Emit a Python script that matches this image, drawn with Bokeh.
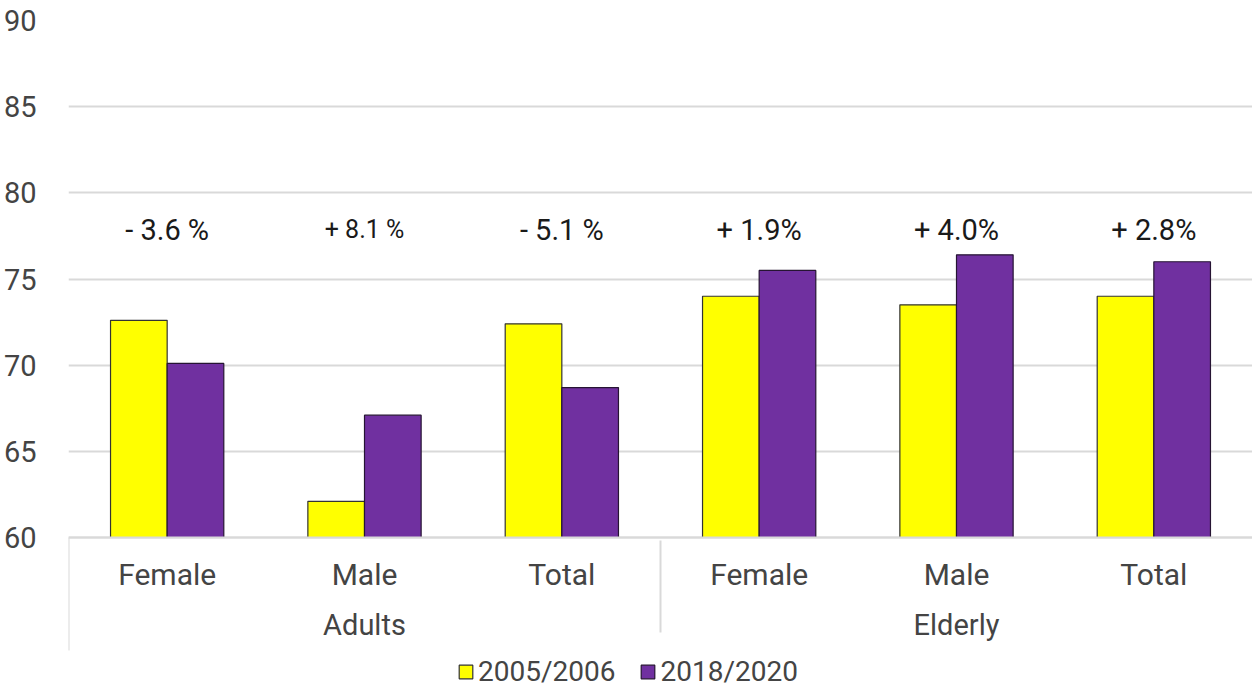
from bokeh.plotting import figure
from bokeh.models import FactorRange, ColumnDataSource, Legend, LegendItem, Range1d, FixedTicker
from bokeh.transform import dodge
from bokeh.core.properties import value
from bokeh.embed import file_html
from bokeh.resources import INLINE

groups = ["Adults", "Elderly"]
subgroups = ["Female", "Male", "Total"]
series_names = ["2005/2006", "2018/2020"]
values_2005 = [72.6, 62.1, 72.4, 74.0, 73.5, 74.0]
values_2018 = [70.1, 67.1, 68.7, 75.5, 76.4, 76.0]
change_labels = ["- 3.6 %", "+ 8.1 %", "- 5.1 %", "+ 1.9%", "+ 4.0%", "+ 2.8%"]
label_level = 77.85
y_ticks = [60, 65, 70, 75, 80, 85, 90]

factors = [(g, s) for g in groups for s in subgroups]

FONT = "Roboto"
BASE = 60
label_font_sizes = ["29px", "25px", "29px", "29px", "29px", "29px"]
src = ColumnDataSource(data=dict(x=factors, a=values_2005, b=values_2018,
                                 lab=change_labels, ly=[label_level] * len(factors),
                                 fs=label_font_sizes))

# frame extends below the value axis so that the category axis and legend sit inside it
px_per_unit = 517 / 30.0
below_px = 151
y_bottom = BASE - below_px / px_per_unit

p = figure(frame_width=1184, frame_height=517 + below_px, output_backend="svg", toolbar_location=None,
           x_range=FactorRange(*factors, group_padding=0, factor_padding=0, range_padding=0),
           y_range=Range1d(y_bottom, 90))
p.min_border_left = 59
p.min_border_right = 0
p.min_border_top = 20
p.min_border_bottom = 0
p.outline_line_color = None
p.background_fill_color = "white"

bw = 0.287
r1 = p.vbar(x=dodge("x", -bw / 2, range=p.x_range), top="a", bottom=BASE, width=bw, source=src,
            fill_color="#FFFF00", line_color="#333333", line_width=1.2)
r2 = p.vbar(x=dodge("x", bw / 2, range=p.x_range), top="b", bottom=BASE, width=bw, source=src,
            fill_color="#7030A0", line_color="#261433", line_width=1.2)

p.text(x="x", y="ly", text="lab", source=src, text_align="center", text_baseline="middle",
       text_font=value(FONT), text_font_size="fs", text_color="#1a1a1a")

# left edge line of the category axis
edge_src = ColumnDataSource(data=dict(x=[factors[0]]))
p.segment(x0=dodge("x", -0.5, range=p.x_range), y0=BASE,
          x1=dodge("x", -0.5, range=p.x_range), y1=BASE - 113 / px_per_unit,
          source=edge_src, line_color="#d9d9d9", line_width=2)

p.yaxis.ticker = FixedTicker(ticks=y_ticks)
p.yaxis.axis_line_color = None
p.yaxis.major_tick_line_color = None
p.yaxis.minor_tick_line_color = None
p.yaxis.major_label_text_font = FONT
p.yaxis.major_label_text_font_size = "29px"
p.yaxis.major_label_text_color = "#444444"
p.yaxis.major_label_standoff = 26

p.ygrid.ticker = FixedTicker(ticks=y_ticks)
p.ygrid.grid_line_color = "#d9d9d9"
p.ygrid.grid_line_width = 2
p.xgrid.grid_line_color = None

ax = p.xaxis[0]
ax.fixed_location = BASE
ax.axis_line_color = "#d9d9d9"
ax.axis_line_width = 2
ax.major_tick_line_color = None
ax.minor_tick_line_color = None
ax.major_label_text_font = FONT
ax.major_label_text_font_size = "30px"
ax.major_label_text_color = "#444444"
ax.major_label_standoff = 13
ax.group_text_font = FONT
ax.group_text_font_size = "29px"
ax.group_text_font_style = "normal"
ax.group_text_color = "#444444"
ax.separator_line_color = "#d9d9d9"
ax.separator_line_width = 2

legend = Legend(items=[LegendItem(label=series_names[0], renderers=[r1]),
                       LegendItem(label=series_names[1], renderers=[r2])],
                orientation="horizontal", location=(389, 0))
legend.label_text_font = FONT
legend.label_text_font_size = "28px"
legend.label_text_color = "#444444"
legend.border_line_color = None
legend.background_fill_alpha = 0
legend.glyph_width = 17
legend.glyph_height = 17
legend.spacing = 24
legend.padding = 1
legend.margin = 0
legend.label_standoff = 4
legend.label_height = 22
p.add_layout(legend, "center")

open("out.html", "w").write(file_html(p, INLINE))
